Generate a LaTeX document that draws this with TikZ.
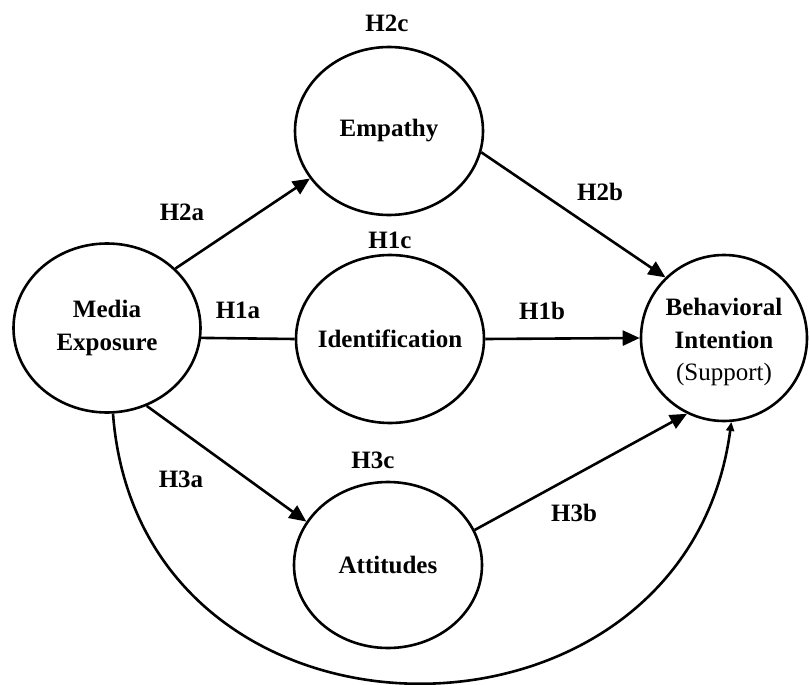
\documentclass[tikz,border=0pt]{standalone}
\usepackage{fontspec}
\setmainfont{Liberation Serif}
\usetikzlibrary{shapes.geometric,arrows.meta}

\tikzset{
  construct/.style={draw, ellipse, line width=2.6pt, inner sep=0pt,
    minimum width=188pt, minimum height=168pt},
  cname/.style={font=\bfseries\fontsize{25}{32.5}\selectfont, align=center, inner sep=0pt},
  hyp/.style={font=\bfseries\fontsize{25}{30}\selectfont, inner sep=0pt},
  path/.style={line width=2.6pt, -{Triangle[length=17pt,width=15pt]}},
  plain/.style={line width=2.6pt},
  direct/.style={line width=2.6pt, -{Triangle[length=9pt,width=8pt]}}
}

\begin{document}
\begin{tikzpicture}[x=1pt,y=-1pt]
\useasboundingbox (0,0) rectangle (809,685);

% constructs
\node[construct, minimum width=187pt, minimum height=169pt] (me) at (107,328) {};
\node[cname] (metext) at (me) {Media\\Exposure};

\node[construct] (emp) at (389,131) {};
\node[cname] (emptext) at (emp) {Empathy};

\node[construct] (idf) at (390,339) {};
\node[cname] (idftext) at (idf) {Identification};

\node[construct, minimum height=166pt] (att) at (388,565) {};
\node[cname] (atttext) at (att) {Attitudes};

\node[construct, minimum width=166pt, minimum height=166pt] (bi) at (724,338) {};
\node[cname] (bitext) at (724,342) {Behavioral\\Intention\\{\mdseries (Support)}};

% hypothesis labels
\node[hyp] (h2c) at (387,23) {H2c};
\node[hyp] (h2a) at (182,212) {H2a};
\node[hyp] (h2b) at (600,192) {H2b};
\node[hyp] (h1c) at (390,240) {H1c};
\node[hyp] (h1a) at (238,310) {H1a};
\node[hyp] (h1b) at (542,311) {H1b};
\node[hyp] (h3c) at (373,460) {H3c};
\node[hyp] (h3a) at (181,479) {H3a};
\node[hyp] (h3b) at (574,513) {H3b};

% paths
\draw[path] (me.41) -- (emp.211);
\draw[path] (emp.-13) -- (bi.134);
\draw[plain] (me.-6) -- (idf.west);
\draw[path] (idf.east) -- (bi.west);
\draw[path] (me.-63) -- (att.152);
\draw[path] (att.22) -- (bi.244);

% direct effect
\draw[direct] (me.-86) .. controls (140,771) and (685,771) .. (bi.-85);
\end{tikzpicture}
\end{document}
